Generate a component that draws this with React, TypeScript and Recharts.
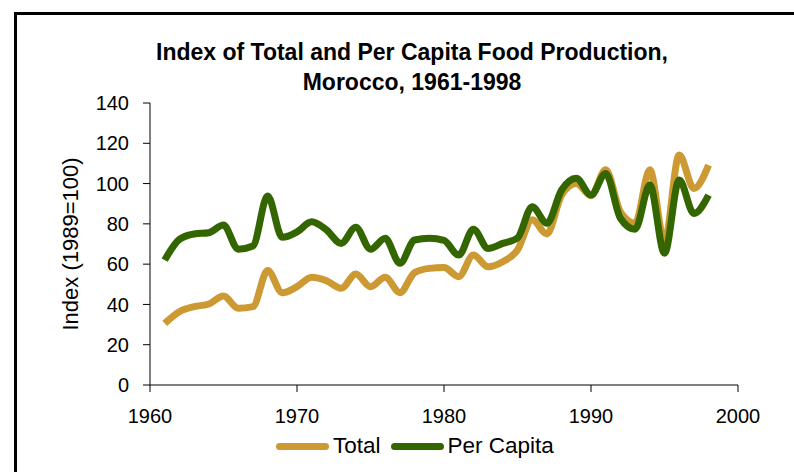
import { LineChart, Line, XAxis, YAxis } from "recharts";

// years 1961-1998
const years = [
  1961, 1962, 1963, 1964, 1965, 1966, 1967, 1968, 1969, 1970, 1971, 1972, 1973,
  1974, 1975, 1976, 1977, 1978, 1979, 1980, 1981, 1982, 1983, 1984, 1985, 1986,
  1987, 1988, 1989, 1990, 1991, 1992, 1993, 1994, 1995, 1996, 1997, 1998,
];

const totalIndex = [
  30.6, 36.4, 38.9, 40.2, 44.2, 38.1, 38.9, 56.8, 45.8, 48.8, 53.5, 51.8, 48,
  55.1, 48.8, 53.5, 45.8, 55.8, 57.9, 58.3, 53.8, 64.5, 58.7, 61.2, 67, 82, 75,
  94.3, 100, 94, 106.8, 86, 80.3, 106.8, 71.2, 114.2, 97.6, 109.2,
];

const perCapitaIndex = [
  62, 72.3, 75, 75.6, 79.4, 67.4, 69, 93.8, 73.3, 76, 81, 77, 70.3, 78.3, 67.4,
  72.8, 60.4, 72, 72.8, 71.8, 64.5, 77.3, 67.8, 70.3, 73, 88.5, 80.3, 96.8,
  102.6, 94.3, 105, 82.8, 77.3, 99.3, 65.4, 101.8, 85.2, 94.3,
];

const xTicks = [1960, 1970, 1980, 1990, 2000];
const yTicks = [0, 20, 40, 60, 80, 100, 120, 140];

const GOLD = "#cc9933";
const GREEN = "#336600";
const FONT = "'Liberation Sans', Arial, sans-serif";

const data = years.map((year, i) => ({
  year,
  total: totalIndex[i],
  perCapita: perCapitaIndex[i],
}));

const legendItems = [
  { label: "Total", color: GOLD },
  { label: "Per Capita", color: GREEN },
];

export default function App() {
  return (
    <div style={{ position: "absolute", left: 0, top: 0, width: 794, height: 472, background: "#fff", overflow: "hidden" }}>
      {/* chart frame, only top and left edges visible */}
      <div
        style={{
          position: "absolute",
          left: 14,
          top: 12,
          width: 800,
          height: 480,
          borderTop: "3px solid #000",
          borderLeft: "3px solid #000",
        }}
      />
      <div
        style={{
          position: "absolute",
          left: 62,
          width: 700,
          top: 37,
          textAlign: "center",
          fontFamily: FONT,
          fontWeight: "bold",
          fontSize: 23,
          lineHeight: "30px",
        }}
      >
        Index of Total and Per Capita Food Production,
        <br />
        Morocco, 1961-1998
      </div>
      <div style={{ position: "absolute", left: 0, top: 0 }}>
        <LineChart width={794} height={472} data={data} margin={{ top: 103, right: 56, bottom: 37, left: 0 }}>
          <XAxis
            dataKey="year"
            type="number"
            domain={[1960, 2000]}
            ticks={xTicks}
            interval={0}
            stroke="#000"
            tickSize={7}
            tickMargin={17}
            height={50}
            tick={{ fill: "#000", fontSize: 20, fontFamily: FONT }}
          />
          <YAxis
            domain={[0, 140]}
            ticks={yTicks}
            interval={0}
            width={150}
            stroke="#000"
            tickSize={7}
            tickMargin={14}
            tick={{ fill: "#000", fontSize: 20, fontFamily: FONT }}
            label={{
              value: "Index (1989=100)",
              angle: -90,
              position: "insideLeft",
              dx: 65,
              style: { fill: "#000", fontSize: 22, fontFamily: FONT, textAnchor: "middle" },
            }}
          />
          <Line
            type="monotone"
            dataKey="total"
            name="Total"
            stroke={GOLD}
            strokeWidth={7}
            dot={false}
            isAnimationActive={false}
          />
          <Line
            type="monotone"
            dataKey="perCapita"
            name="Per Capita"
            stroke={GREEN}
            strokeWidth={7}
            dot={false}
            isAnimationActive={false}
          />
        </LineChart>
      </div>
      <div
        style={{
          position: "absolute",
          left: 276,
          top: 432,
          display: "flex",
          alignItems: "center",
          fontFamily: FONT,
          fontSize: 22.5,
          lineHeight: "28px",
        }}
      >
        {legendItems.map((it) => (
          <div key={it.label} style={{ display: "flex", alignItems: "center", marginRight: 10 }}>
            <div style={{ width: 53, height: 7, borderRadius: 4, background: it.color, marginRight: 4 }} />
            <span>{it.label}</span>
          </div>
        ))}
      </div>
    </div>
  );
}
